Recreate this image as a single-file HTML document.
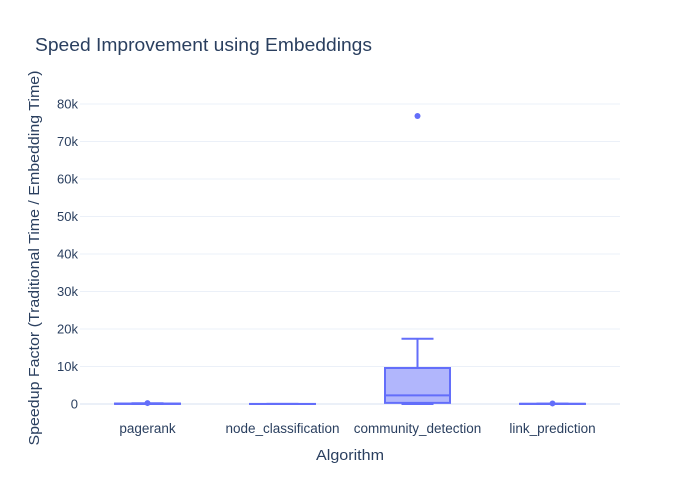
<!DOCTYPE html>
<html><head><meta charset="utf-8"><style>
body{margin:0;background:#fff}
svg{display:block;font-family:"Liberation Sans",Arial,sans-serif}
</style></head><body>
<svg id="chart" width="700" height="500" xmlns="http://www.w3.org/2000/svg">
<text x="35" y="51" font-size="18" textLength="337" lengthAdjust="spacingAndGlyphs" fill="#2a3f5f">Speed Improvement using Embeddings</text>
<g id="grid"></g><g id="marks"></g>
<text x="350" y="460" font-size="15" textLength="68" lengthAdjust="spacingAndGlyphs" fill="#2a3f5f" text-anchor="middle">Algorithm</text>
<text transform="translate(39,258) rotate(-90)" font-size="15" textLength="375" lengthAdjust="spacingAndGlyphs" fill="#2a3f5f" text-anchor="middle">Speedup Factor (Traditional Time / Embedding Time)</text>
</svg>
<script>
const categories=["pagerank","node_classification","community_detection","link_prediction"];
const q1=[20,5,300,10];
const median=[60,10,2300,30];
const q3=[120,20,9600,60];
const lowerWhisker=[0,0,0,0];
const upperWhisker=[200,40,17400,100];
const outliers=[[250],[],[76800],[150]];
const yTicks=[0,10000,20000,30000,40000,50000,60000,70000,80000];
const yTickLabels=["0","10k","20k","30k","40k","50k","60k","70k","80k"];
const NS="http://www.w3.org/2000/svg";
const L=80,R=620,Y0=404,Y80=104;
const y=v=>Y0-(v/80000)*(Y0-Y80);
const band=(R-L)/categories.length;
const x=i=>L+band*(i+0.5);
function mk(tag,attrs,parent){const e=document.createElementNS(NS,tag);for(const k in attrs)e.setAttribute(k,attrs[k]);parent.appendChild(e);return e;}
const grid=document.getElementById('grid'),marks=document.getElementById('marks');
yTicks.forEach((t,i)=>{
 const l=mk('line',{x1:L,x2:R,y1:y(t),y2:y(t),stroke:'#ebf0f8','stroke-width':t===0?2:1},grid);
 
 
 const tx=mk('text',{x:L-2,y:y(t)+4.5,'font-size':13,fill:'#2a3f5f','text-anchor':'end'},grid);
 tx.textContent=yTickLabels[i];
 
 
});
categories.forEach((c,i)=>{
 const cx=x(i),hw=32.5,cw=16;
 const g=mk('g',{},marks);
 
 
 mk('line',{x1:cx,x2:cx,y1:y(q3[i]),y2:y(upperWhisker[i]),stroke:'#636efa','stroke-width':2},g);
 mk('line',{x1:cx,x2:cx,y1:y(q1[i]),y2:y(lowerWhisker[i]),stroke:'#636efa','stroke-width':2},g);
 mk('line',{x1:cx-cw,x2:cx+cw,y1:y(upperWhisker[i]),y2:y(upperWhisker[i]),stroke:'#636efa','stroke-width':2},g);
 mk('line',{x1:cx-cw,x2:cx+cw,y1:y(lowerWhisker[i]),y2:y(lowerWhisker[i]),stroke:'#636efa','stroke-width':2},g);
 mk('rect',{x:cx-hw,y:y(q3[i]),width:hw*2,height:Math.max(0.01,y(q1[i])-y(q3[i])),fill:'rgba(99,110,250,0.5)',stroke:'#636efa','stroke-width':2},g);
 mk('line',{x1:cx-hw,x2:cx+hw,y1:y(median[i]),y2:y(median[i]),stroke:'#636efa','stroke-width':2},g);
 outliers[i].forEach(v=>{
  const p=mk('circle',{cx:cx,cy:y(v),r:3,fill:'#636efa'},g);
  
  
 });
 const tx=mk('text',{x:cx,y:433,'font-size':13.5,fill:'#2a3f5f','text-anchor':'middle'},marks);
 tx.textContent=c;
 
 
});
</script>
</body></html>
